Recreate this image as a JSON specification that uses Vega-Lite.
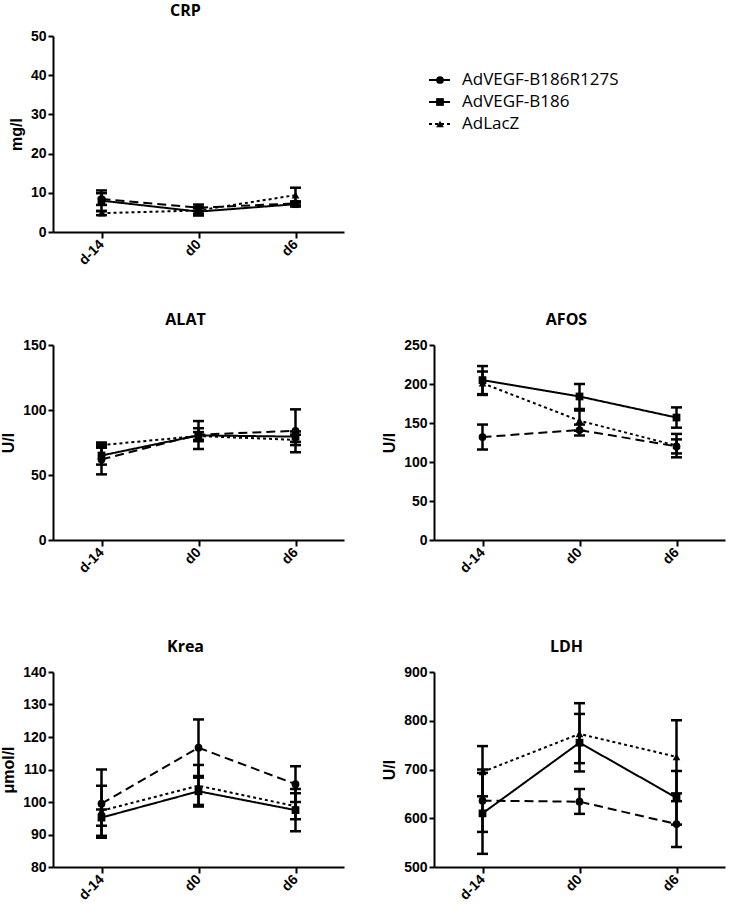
{
  "$schema": "https://vega.github.io/schema/vega-lite/v6.json",
  "padding": {"left": 0, "top": 3, "right": 5, "bottom": 0},
  "background": "white",
  "datasets": {
    "rows": [
      {"test":"CRP","series":"AdVEGF-B186R127S","day":"d-14","mean":8.4,"lo":6.9,"hi":9.9},
      {"test":"CRP","series":"AdVEGF-B186R127S","day":"d0","mean":6.2,"lo":5.4,"hi":7.0},
      {"test":"CRP","series":"AdVEGF-B186R127S","day":"d6","mean":7.3,"lo":6.8,"hi":7.8},
      {"test":"CRP","series":"AdVEGF-B186","day":"d-14","mean":8.0,"lo":5.4,"hi":10.6},
      {"test":"CRP","series":"AdVEGF-B186","day":"d0","mean":5.2,"lo":4.2,"hi":6.2},
      {"test":"CRP","series":"AdVEGF-B186","day":"d6","mean":7.1,"lo":6.5,"hi":7.7},
      {"test":"CRP","series":"AdLacZ","day":"d-14","mean":4.8,"lo":4.3,"hi":5.3},
      {"test":"CRP","series":"AdLacZ","day":"d0","mean":5.5,"lo":4.7,"hi":6.3},
      {"test":"CRP","series":"AdLacZ","day":"d6","mean":9.4,"lo":7.5,"hi":11.3},
      {"test":"ALAT","series":"AdVEGF-B186R127S","day":"d-14","mean":62,"lo":50.5,"hi":73.5},
      {"test":"ALAT","series":"AdVEGF-B186R127S","day":"d0","mean":81,"lo":76,"hi":86},
      {"test":"ALAT","series":"AdVEGF-B186R127S","day":"d6","mean":84,"lo":67.5,"hi":100.5},
      {"test":"ALAT","series":"AdVEGF-B186","day":"d-14","mean":65,"lo":58,"hi":72},
      {"test":"ALAT","series":"AdVEGF-B186","day":"d0","mean":80.5,"lo":70,"hi":91.5},
      {"test":"ALAT","series":"AdVEGF-B186","day":"d6","mean":79.5,"lo":75.5,"hi":83.5},
      {"test":"ALAT","series":"AdLacZ","day":"d-14","mean":73,"lo":71,"hi":75},
      {"test":"ALAT","series":"AdLacZ","day":"d0","mean":80,"lo":77,"hi":83},
      {"test":"ALAT","series":"AdLacZ","day":"d6","mean":77,"lo":73,"hi":81},
      {"test":"AFOS","series":"AdVEGF-B186R127S","day":"d-14","mean":132,"lo":116,"hi":148},
      {"test":"AFOS","series":"AdVEGF-B186R127S","day":"d0","mean":141,"lo":134,"hi":148},
      {"test":"AFOS","series":"AdVEGF-B186R127S","day":"d6","mean":120,"lo":111,"hi":129},
      {"test":"AFOS","series":"AdVEGF-B186","day":"d-14","mean":205,"lo":187,"hi":223},
      {"test":"AFOS","series":"AdVEGF-B186","day":"d0","mean":184,"lo":168,"hi":200},
      {"test":"AFOS","series":"AdVEGF-B186","day":"d6","mean":157,"lo":144,"hi":170},
      {"test":"AFOS","series":"AdLacZ","day":"d-14","mean":201,"lo":186,"hi":216},
      {"test":"AFOS","series":"AdLacZ","day":"d0","mean":153,"lo":140,"hi":166},
      {"test":"AFOS","series":"AdLacZ","day":"d6","mean":121,"lo":106,"hi":136},
      {"test":"Krea","series":"AdVEGF-B186R127S","day":"d-14","mean":99.5,"lo":89,"hi":110},
      {"test":"Krea","series":"AdVEGF-B186R127S","day":"d0","mean":116.7,"lo":108,"hi":125.4},
      {"test":"Krea","series":"AdVEGF-B186R127S","day":"d6","mean":105.5,"lo":100,"hi":111},
      {"test":"Krea","series":"AdVEGF-B186","day":"d-14","mean":95.2,"lo":92.7,"hi":97.7},
      {"test":"Krea","series":"AdVEGF-B186","day":"d0","mean":103.3,"lo":99.1,"hi":107.5},
      {"test":"Krea","series":"AdVEGF-B186","day":"d6","mean":97.5,"lo":91,"hi":104},
      {"test":"Krea","series":"AdLacZ","day":"d-14","mean":97.3,"lo":89.6,"hi":105},
      {"test":"Krea","series":"AdLacZ","day":"d0","mean":105,"lo":98.6,"hi":111.4},
      {"test":"Krea","series":"AdLacZ","day":"d6","mean":98.7,"lo":94.7,"hi":102.7},
      {"test":"LDH","series":"AdVEGF-B186R127S","day":"d-14","mean":636,"lo":572,"hi":700},
      {"test":"LDH","series":"AdVEGF-B186R127S","day":"d0","mean":634,"lo":609,"hi":660},
      {"test":"LDH","series":"AdVEGF-B186R127S","day":"d6","mean":588,"lo":541,"hi":635},
      {"test":"LDH","series":"AdVEGF-B186","day":"d-14","mean":610,"lo":527,"hi":693},
      {"test":"LDH","series":"AdVEGF-B186","day":"d0","mean":755,"lo":696,"hi":814},
      {"test":"LDH","series":"AdVEGF-B186","day":"d6","mean":642,"lo":587,"hi":697},
      {"test":"LDH","series":"AdLacZ","day":"d-14","mean":695,"lo":645,"hi":748},
      {"test":"LDH","series":"AdLacZ","day":"d0","mean":773,"lo":713,"hi":836},
      {"test":"LDH","series":"AdLacZ","day":"d6","mean":726,"lo":651,"hi":801}
    ],
    "legendrows": [
      {"series":"AdVEGF-B186R127S"},
      {"series":"AdVEGF-B186"},
      {"series":"AdLacZ"}
    ]
  },
  "data": {"name": "rows"},
  "columns": 2,
  "align": "each",
  "spacing": {"row": 44, "column": 37},
  "resolve": {"scale": {"x": "independent", "y": "independent"}},
  "concat": [
    {
      "title": "CRP",
      "width": 291, "height": 196,
      "transform": [{"filter": "datum.test === 'CRP'"}],
      "encoding": {"x": {"field": "day", "type": "ordinal", "sort": ["d-14","d0","d6"], "scale": {"type": "point", "padding": 0.5}, "axis": {"title": null, "labelAngle": -45, "labelAlign": "right", "labelBaseline": "middle", "labelPadding": 4, "tickSize": 6}}},
      "layer": [
        {"mark": {"type": "line", "color": "black", "strokeWidth": 2}, "encoding": {"y": {"field": "mean", "type": "quantitative", "title": "mg/l", "scale": {"domain": [0, 50], "nice": false}, "axis": {"values": [0,10,20,30,40,50]}}, "strokeDash": {"field": "series", "type": "nominal", "scale": {"domain": ["AdVEGF-B186R127S","AdVEGF-B186","AdLacZ"], "range": [[9,5],[1,0],[3,3]]}, "legend": null}}},
        {"mark": {"type": "rule", "color": "black", "strokeWidth": 2.5}, "encoding": {"y": {"field": "lo", "type": "quantitative", "title": "mg/l", "axis": {"values": [0,10,20,30,40,50]}}, "y2": {"field": "hi"}}},
        {"mark": {"type": "tick", "color": "black", "thickness": 2.5, "size": 11, "opacity": 1}, "encoding": {"y": {"field": "lo", "type": "quantitative", "title": "mg/l", "axis": {"values": [0,10,20,30,40,50]}}}},
        {"mark": {"type": "tick", "color": "black", "thickness": 2.5, "size": 11, "opacity": 1}, "encoding": {"y": {"field": "hi", "type": "quantitative", "title": "mg/l", "axis": {"values": [0,10,20,30,40,50]}}}},
        {"mark": {"type": "point", "filled": true, "color": "black", "size": 60, "opacity": 1}, "encoding": {"y": {"field": "mean", "type": "quantitative", "title": "mg/l", "axis": {"values": [0,10,20,30,40,50]}}, "shape": {"field": "series", "type": "nominal", "scale": {"domain": ["AdVEGF-B186R127S","AdVEGF-B186","AdLacZ"], "range": ["circle","square","triangle-up"]}, "legend": null}}}
      ]
    },
    {
      "data": {"name": "legendrows"},
      "width": 250, "height": 88,
      "encoding": {"y": {"field": "series", "type": "nominal", "sort": ["AdVEGF-B186R127S","AdVEGF-B186","AdLacZ"], "scale": {"type": "point", "padding": 1, "align": 1}, "axis": null}},
      "layer": [
        {"mark": {"type": "rule", "color": "black", "strokeWidth": 2}, "encoding": {"x": {"datum": -0.2, "type": "quantitative", "scale": {"domain": [0, 10]}, "axis": null}, "x2": {"datum": 0.64}, "strokeDash": {"field": "series", "type": "nominal", "scale": {"domain": ["AdVEGF-B186R127S","AdVEGF-B186","AdLacZ"], "range": [[9,5],[1,0],[3,3]]}, "legend": null}}},
        {"mark": {"type": "point", "filled": true, "color": "black", "size": 60, "opacity": 1}, "encoding": {"x": {"datum": 0.24, "type": "quantitative"}, "shape": {"field": "series", "type": "nominal", "scale": {"domain": ["AdVEGF-B186R127S","AdVEGF-B186","AdLacZ"], "range": ["circle","square","triangle-up"]}, "legend": null}}},
        {"mark": {"type": "text", "align": "left", "baseline": "middle", "font": "Open Sans", "fontSize": 17, "color": "black"}, "encoding": {"x": {"datum": 1.12, "type": "quantitative"}, "text": {"field": "series"}}}
      ]
    },
    {
      "title": "ALAT",
      "width": 291, "height": 195,
      "transform": [{"filter": "datum.test === 'ALAT'"}],
      "encoding": {"x": {"field": "day", "type": "ordinal", "sort": ["d-14","d0","d6"], "scale": {"type": "point", "padding": 0.5}, "axis": {"title": " ", "titleFontSize": 10, "titlePadding": 9, "labelAngle": -45, "labelAlign": "right", "labelBaseline": "middle", "labelPadding": 4, "tickSize": 6}}},
      "layer": [
        {"mark": {"type": "line", "color": "black", "strokeWidth": 2}, "encoding": {"y": {"field": "mean", "type": "quantitative", "title": "U/l", "scale": {"domain": [0, 150], "nice": false}, "axis": {"values": [0,50,100,150]}}, "strokeDash": {"field": "series", "type": "nominal", "scale": {"domain": ["AdVEGF-B186R127S","AdVEGF-B186","AdLacZ"], "range": [[9,5],[1,0],[3,3]]}, "legend": null}}},
        {"mark": {"type": "rule", "color": "black", "strokeWidth": 2.5}, "encoding": {"y": {"field": "lo", "type": "quantitative", "title": "U/l", "axis": {"values": [0,50,100,150]}}, "y2": {"field": "hi"}}},
        {"mark": {"type": "tick", "color": "black", "thickness": 2.5, "size": 11, "opacity": 1}, "encoding": {"y": {"field": "lo", "type": "quantitative", "title": "U/l", "axis": {"values": [0,50,100,150]}}}},
        {"mark": {"type": "tick", "color": "black", "thickness": 2.5, "size": 11, "opacity": 1}, "encoding": {"y": {"field": "hi", "type": "quantitative", "title": "U/l", "axis": {"values": [0,50,100,150]}}}},
        {"mark": {"type": "point", "filled": true, "color": "black", "size": 60, "opacity": 1}, "encoding": {"y": {"field": "mean", "type": "quantitative", "title": "U/l", "axis": {"values": [0,50,100,150]}}, "shape": {"field": "series", "type": "nominal", "scale": {"domain": ["AdVEGF-B186R127S","AdVEGF-B186","AdLacZ"], "range": ["circle","square","triangle-up"]}, "legend": null}}}
      ]
    },
    {
      "title": "AFOS",
      "width": 291, "height": 195,
      "transform": [{"filter": "datum.test === 'AFOS'"}],
      "encoding": {"x": {"field": "day", "type": "ordinal", "sort": ["d-14","d0","d6"], "scale": {"type": "point", "padding": 0.5}, "axis": {"title": " ", "titleFontSize": 10, "titlePadding": 9, "labelAngle": -45, "labelAlign": "right", "labelBaseline": "middle", "labelPadding": 4, "tickSize": 6}}},
      "layer": [
        {"mark": {"type": "line", "color": "black", "strokeWidth": 2}, "encoding": {"y": {"field": "mean", "type": "quantitative", "title": "U/l", "scale": {"domain": [0, 250], "nice": false}, "axis": {"values": [0,50,100,150,200,250]}}, "strokeDash": {"field": "series", "type": "nominal", "scale": {"domain": ["AdVEGF-B186R127S","AdVEGF-B186","AdLacZ"], "range": [[9,5],[1,0],[3,3]]}, "legend": null}}},
        {"mark": {"type": "rule", "color": "black", "strokeWidth": 2.5}, "encoding": {"y": {"field": "lo", "type": "quantitative", "title": "U/l", "axis": {"values": [0,50,100,150,200,250]}}, "y2": {"field": "hi"}}},
        {"mark": {"type": "tick", "color": "black", "thickness": 2.5, "size": 11, "opacity": 1}, "encoding": {"y": {"field": "lo", "type": "quantitative", "title": "U/l", "axis": {"values": [0,50,100,150,200,250]}}}},
        {"mark": {"type": "tick", "color": "black", "thickness": 2.5, "size": 11, "opacity": 1}, "encoding": {"y": {"field": "hi", "type": "quantitative", "title": "U/l", "axis": {"values": [0,50,100,150,200,250]}}}},
        {"mark": {"type": "point", "filled": true, "color": "black", "size": 60, "opacity": 1}, "encoding": {"y": {"field": "mean", "type": "quantitative", "title": "U/l", "axis": {"values": [0,50,100,150,200,250]}}, "shape": {"field": "series", "type": "nominal", "scale": {"domain": ["AdVEGF-B186R127S","AdVEGF-B186","AdLacZ"], "range": ["circle","square","triangle-up"]}, "legend": null}}}
      ]
    },
    {
      "title": "Krea",
      "width": 291, "height": 195,
      "transform": [{"filter": "datum.test === 'Krea'"}],
      "encoding": {"x": {"field": "day", "type": "ordinal", "sort": ["d-14","d0","d6"], "scale": {"type": "point", "padding": 0.5}, "axis": {"title": null, "labelAngle": -45, "labelAlign": "right", "labelBaseline": "middle", "labelPadding": 4, "tickSize": 6}}},
      "layer": [
        {"mark": {"type": "line", "color": "black", "strokeWidth": 2}, "encoding": {"y": {"field": "mean", "type": "quantitative", "title": "μmol/l", "scale": {"domain": [80, 140], "nice": false, "zero": false}, "axis": {"values": [80,90,100,110,120,130,140]}}, "strokeDash": {"field": "series", "type": "nominal", "scale": {"domain": ["AdVEGF-B186R127S","AdVEGF-B186","AdLacZ"], "range": [[9,5],[1,0],[3,3]]}, "legend": null}}},
        {"mark": {"type": "rule", "color": "black", "strokeWidth": 2.5}, "encoding": {"y": {"field": "lo", "type": "quantitative", "title": "μmol/l", "axis": {"values": [80,90,100,110,120,130,140]}}, "y2": {"field": "hi"}}},
        {"mark": {"type": "tick", "color": "black", "thickness": 2.5, "size": 11, "opacity": 1}, "encoding": {"y": {"field": "lo", "type": "quantitative", "title": "μmol/l", "axis": {"values": [80,90,100,110,120,130,140]}}}},
        {"mark": {"type": "tick", "color": "black", "thickness": 2.5, "size": 11, "opacity": 1}, "encoding": {"y": {"field": "hi", "type": "quantitative", "title": "μmol/l", "axis": {"values": [80,90,100,110,120,130,140]}}}},
        {"mark": {"type": "point", "filled": true, "color": "black", "size": 60, "opacity": 1}, "encoding": {"y": {"field": "mean", "type": "quantitative", "title": "μmol/l", "axis": {"values": [80,90,100,110,120,130,140]}}, "shape": {"field": "series", "type": "nominal", "scale": {"domain": ["AdVEGF-B186R127S","AdVEGF-B186","AdLacZ"], "range": ["circle","square","triangle-up"]}, "legend": null}}}
      ]
    },
    {
      "title": "LDH",
      "width": 291, "height": 195,
      "transform": [{"filter": "datum.test === 'LDH'"}],
      "encoding": {"x": {"field": "day", "type": "ordinal", "sort": ["d-14","d0","d6"], "scale": {"type": "point", "padding": 0.5}, "axis": {"title": null, "labelAngle": -45, "labelAlign": "right", "labelBaseline": "middle", "labelPadding": 4, "tickSize": 6}}},
      "layer": [
        {"mark": {"type": "line", "color": "black", "strokeWidth": 2}, "encoding": {"y": {"field": "mean", "type": "quantitative", "title": "U/l", "scale": {"domain": [500, 900], "nice": false, "zero": false}, "axis": {"values": [500,600,700,800,900]}}, "strokeDash": {"field": "series", "type": "nominal", "scale": {"domain": ["AdVEGF-B186R127S","AdVEGF-B186","AdLacZ"], "range": [[9,5],[1,0],[3,3]]}, "legend": null}}},
        {"mark": {"type": "rule", "color": "black", "strokeWidth": 2.5}, "encoding": {"y": {"field": "lo", "type": "quantitative", "title": "U/l", "axis": {"values": [500,600,700,800,900]}}, "y2": {"field": "hi"}}},
        {"mark": {"type": "tick", "color": "black", "thickness": 2.5, "size": 11, "opacity": 1}, "encoding": {"y": {"field": "lo", "type": "quantitative", "title": "U/l", "axis": {"values": [500,600,700,800,900]}}}},
        {"mark": {"type": "tick", "color": "black", "thickness": 2.5, "size": 11, "opacity": 1}, "encoding": {"y": {"field": "hi", "type": "quantitative", "title": "U/l", "axis": {"values": [500,600,700,800,900]}}}},
        {"mark": {"type": "point", "filled": true, "color": "black", "size": 60, "opacity": 1}, "encoding": {"y": {"field": "mean", "type": "quantitative", "title": "U/l", "axis": {"values": [500,600,700,800,900]}}, "shape": {"field": "series", "type": "nominal", "scale": {"domain": ["AdVEGF-B186R127S","AdVEGF-B186","AdLacZ"], "range": ["circle","square","triangle-up"]}, "legend": null}}}
      ]
    }
  ],
  "config": {
    "view": {"stroke": null},
    "axis": {"grid": false, "labelOverlap": false, "domainColor": "black", "domainWidth": 2, "tickColor": "black", "tickWidth": 2, "tickSize": 5, "labelFont": "Liberation Sans", "labelFontWeight": "bold", "labelFontSize": 14, "labelColor": "black", "labelPadding": 2, "titleFont": "Liberation Sans", "titleFontSize": 16, "titleFontWeight": "bold", "titleColor": "black", "titlePadding": 6},
    "title": {"font": "Open Sans", "fontSize": 16, "fontWeight": "bold", "color": "black", "frame": "group", "dx": -13, "offset": 10}
  }
}
